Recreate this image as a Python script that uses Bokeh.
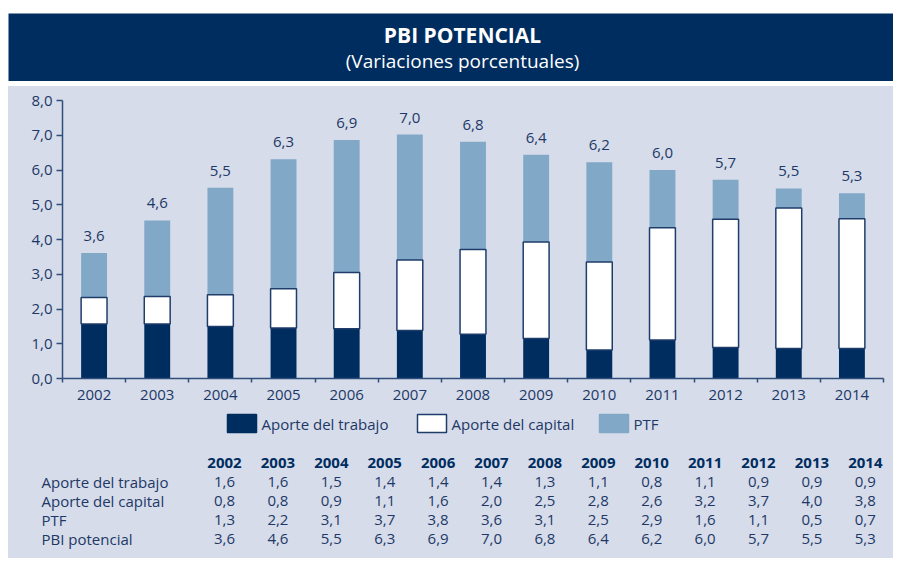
from bokeh.plotting import figure
from bokeh.models import ColumnDataSource, Range1d, FixedTicker, Spacer
from bokeh.layouts import column, row
from bokeh.transform import stack
from bokeh.core.properties import value
from bokeh.embed import file_html
from bokeh.resources import INLINE

# ---------------- data ----------------
years = ["2002", "2003", "2004", "2005", "2006", "2007", "2008",
         "2009", "2010", "2011", "2012", "2013", "2014"]
# segment heights
trabajo_bar = [1.57, 1.57, 1.50, 1.45, 1.43, 1.38, 1.27, 1.15, 0.82, 1.11, 0.89, 0.86, 0.86]
capital_bar = [0.76, 0.79, 0.91, 1.13, 1.62, 2.03, 2.44, 2.78, 2.53, 3.23, 3.69, 4.05, 3.74]
ptf_bar = [1.28, 2.19, 3.08, 3.73, 3.81, 3.61, 3.10, 2.51, 2.87, 1.66, 1.14, 0.56, 0.73]
# values printed in the table
tab_trabajo = [1.6, 1.6, 1.5, 1.4, 1.4, 1.4, 1.3, 1.1, 0.8, 1.1, 0.9, 0.9, 0.9]
tab_capital = [0.8, 0.8, 0.9, 1.1, 1.6, 2.0, 2.5, 2.8, 2.6, 3.2, 3.7, 4.0, 3.8]
tab_ptf = [1.3, 2.2, 3.1, 3.7, 3.8, 3.6, 3.1, 2.5, 2.9, 1.6, 1.1, 0.5, 0.7]
tab_pbi = [3.6, 4.6, 5.5, 6.3, 6.9, 7.0, 6.8, 6.4, 6.2, 6.0, 5.7, 5.5, 5.3]
row_labels = ["Aporte del trabajo", "Aporte del capital", "PTF", "PBI potencial"]
legend_labels = ["Aporte del trabajo", "Aporte del capital", "PTF"]
y_ticks = [0, 1, 2, 3, 4, 5, 6, 7, 8]
y_tick_labels = ["0,0", "1,0", "2,0", "3,0", "4,0", "5,0", "6,0", "7,0", "8,0"]
title = "PBI POTENCIAL"
subtitle = "(Variaciones porcentuales)"

# ---------------- styles ----------------
NAVY = "#002d5f"
LIGHT = "#82a8c8"
BG = "#d6dcea"
TXT = "#1d3866"
AX = "#2f4e7c"
FONT = "Open Sans"
W = 885


def fmt(v):
    return f"{v:.1f}".replace(".", ",")


# ---------------- banner ----------------
banner = figure(width=W, height=68, x_range=Range1d(0, W), y_range=Range1d(68, 0),
                output_backend="svg", toolbar_location=None,
                x_axis_location=None, y_axis_location=None,
                min_border_top=0, min_border_bottom=0, min_border_left=0, min_border_right=0)
banner.background_fill_color = NAVY
banner.border_fill_color = NAVY
banner.outline_line_color = None
banner.grid.visible = False
banner.text(x=[454], y=[21], text=[title], text_color="white", text_font=value(FONT),
            text_font_style="bold", text_font_size="21px", text_align="center",
            text_baseline="middle")
banner.text(x=[454], y=[47], text=[subtitle], text_color="white", text_font=value(FONT),
            text_font_size="19px", text_align="center", text_baseline="middle")

# ---------------- chart ----------------
n = len(years)
centers = [2 * i + 1 for i in range(n)]
src = ColumnDataSource(dict(
    x=centers,
    trabajo=trabajo_bar,
    capital=capital_bar,
    ptf=ptf_bar,
    label=[fmt(v) for v in tab_pbi],
))

chart = figure(width=W, height=324, x_range=Range1d(0, 2 * n), y_range=Range1d(0, 8),
               output_backend="svg", toolbar_location=None,
               min_border_left=54, min_border_right=10, min_border_top=14, min_border_bottom=32)
chart.background_fill_color = BG
chart.border_fill_color = BG
chart.outline_line_color = None
chart.grid.visible = False

chart.vbar(x="x", width=0.82, bottom=0, top=stack("trabajo"), source=src,
           fill_color=NAVY, line_color=None)
chart.vbar(x="x", width=0.82, bottom=stack("trabajo", "capital"),
           top=stack("trabajo", "capital", "ptf"), source=src,
           fill_color=LIGHT, line_color=None)
chart.vbar(x="x", width=0.82, bottom=stack("trabajo"), top=stack("trabajo", "capital"),
           source=src, fill_color="white", line_color="#1f3d6b", line_width=1.5)
chart.text(x="x", y=stack("trabajo", "capital", "ptf"), text="label", source=src,
           text_align="center", text_baseline="middle", y_offset=-17,
           text_color=TXT, text_font=value(FONT), text_font_size="15px")

xa = chart.xaxis[0]
xa.ticker = FixedTicker(ticks=centers, minor_ticks=list(range(0, 2 * n + 1, 2)))
xa.major_label_overrides = {c: y for c, y in zip(centers, years)}
xa.major_tick_out = 0
xa.major_tick_in = 0
xa.minor_tick_out = 4
xa.minor_tick_in = 0
xa.axis_line_color = AX
xa.axis_line_width = 1.5
xa.minor_tick_line_color = AX
xa.minor_tick_line_width = 1.5
xa.major_label_standoff = 7
xa.major_label_text_font = FONT
xa.major_label_text_font_size = "15px"
xa.major_label_text_color = TXT

ya = chart.yaxis[0]
ya.ticker = FixedTicker(ticks=y_ticks, minor_ticks=[])
ya.major_label_overrides = {t: l for t, l in zip(y_ticks, y_tick_labels)}
ya.major_tick_out = 6
ya.major_tick_in = 0
ya.minor_tick_out = 0
ya.minor_tick_in = 0
ya.axis_line_color = AX
ya.axis_line_width = 1.5
ya.major_tick_line_color = AX
ya.major_tick_line_width = 1.5
ya.major_label_standoff = 4
ya.major_label_text_font = FONT
ya.major_label_text_font_size = "15px"
ya.major_label_text_color = TXT

# ---------------- legend + table ----------------
BH = 148
bottom = figure(width=W, height=BH, x_range=Range1d(0, W), y_range=Range1d(BH, 0),
                output_backend="svg", toolbar_location=None,
                x_axis_location=None, y_axis_location=None,
                min_border_top=0, min_border_bottom=0, min_border_left=0, min_border_right=0)
bottom.background_fill_color = BG
bottom.border_fill_color = BG
bottom.outline_line_color = None
bottom.grid.visible = False

leg_x = [219, 409, 591]
leg_fill = [NAVY, "white", LIGHT]
leg_line = [NAVY, "#1f3d6b", LIGHT]
for lx, lab, fc, lc in zip(leg_x, legend_labels, leg_fill, leg_line):
    bottom.quad(left=[lx], right=[lx + 29], top=[4], bottom=[22], fill_color=fc,
                line_color=lc, line_width=1.5)
    bottom.text(x=[lx + 34], y=[13], text=[lab], text_color=TXT, text_font=value(FONT),
                text_font_size="15px", text_baseline="middle", text_align="left")

col_x = [216 + 53.4 * i for i in range(n)]
bottom.text(x=col_x, y=[52] * n, text=years, text_color=NAVY, text_font=value(FONT),
            text_font_style="bold", text_font_size="15px", text_align="center",
            text_baseline="middle")
rows = [tab_trabajo, tab_capital, tab_ptf, tab_pbi]
row_y = [71, 90, 109.5, 128]
for ry, lab, vals in zip(row_y, row_labels, rows):
    bottom.text(x=[33], y=[ry], text=[lab], text_color=TXT, text_font=value(FONT),
                text_font_size="15px", text_align="left", text_baseline="middle")
    bottom.text(x=col_x, y=[ry] * n, text=[fmt(v) for v in vals], text_color=TXT,
                text_font=value(FONT), text_font_size="15px", text_align="center",
                text_baseline="middle")

panel = column(row(chart), row(bottom), styles={"background-color": BG})

layout = row(Spacer(width=8, height=563),
             column(Spacer(width=W, height=13),
                    row(banner),
                    Spacer(width=W, height=5),
                    panel))

open("out.html", "w").write(file_html(layout, INLINE))
